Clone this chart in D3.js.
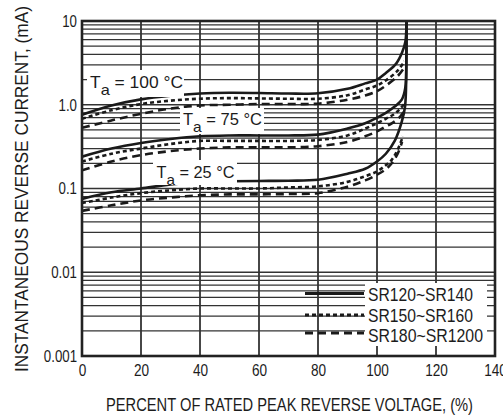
<!DOCTYPE html>
<html><head><meta charset="utf-8">
<script src="https://cdn.jsdelivr.net/npm/d3@7"></script>
<style>
body{margin:0;background:#fff}
svg{display:block}
text{font-family:"Liberation Sans",Arial,Helvetica,sans-serif;fill:#1c1c1c}
</style>
</head><body><svg id="c" width="503" height="418"></svg>
<script>
// ---------- data ----------
const xTicks = [0,20,40,60,80,100,120,140];
const yTicks = [0.001,0.01,0.1,1,10];
const yTickLabels = ["0.001","0.01","0.1","1.0","10"];
const seriesNames = ["SR120~SR140","SR150~SR160","SR180~SR1200"];
const tempLabels = ["100","75","25"];

// Ta = 100 °C  [percent, mA]
const t100_sr120 = [[0,0.76],[10,0.98],[20,1.16],[30,1.28],[40,1.36],[50,1.39],[60,1.38],[70,1.36],[80,1.37],[90,1.55],[96,1.8],[100,2.0],[103,2.4],[106.5,3.1],[108.5,4.2],[109.6,5.6],[109.95,8],[110,10]];
const t100_sr150 = [[0,0.68],[10,0.86],[20,1.02],[30,1.12],[40,1.18],[50,1.2],[60,1.19],[70,1.18],[80,1.18],[90,1.3],[96,1.52],[100,1.7],[103,1.95],[107,2.55],[109.3,3.3]];
const t100_sr180 = [[0,0.53],[10,0.65],[20,0.78],[30,0.9],[40,0.98],[50,1.0],[60,1.02],[70,1.02],[80,1.03],[90,1.15],[96,1.29],[100,1.45],[103,1.69],[107,2.2],[109,2.7]];
// Ta = 75 °C
const t75_sr120 = [[0,0.24],[10,0.3],[20,0.35],[30,0.39],[40,0.42],[50,0.43],[60,0.43],[70,0.43],[80,0.44],[90,0.52],[96,0.6],[100,0.7],[103,0.8],[106,0.95],[108.4,1.15],[109.6,1.6],[109.95,4],[110,10]];
const t75_sr150 = [[0,0.21],[10,0.26],[20,0.3],[30,0.34],[40,0.37],[50,0.37],[60,0.37],[70,0.37],[80,0.38],[90,0.43],[96,0.52],[100,0.6],[103,0.68],[105.5,0.76],[107.5,0.87],[109.2,1.02]];
const t75_sr180 = [[0,0.165],[10,0.21],[20,0.25],[30,0.28],[40,0.3],[50,0.31],[60,0.31],[70,0.31],[80,0.32],[90,0.36],[96,0.42],[100,0.48],[103,0.55],[105,0.6],[107.5,0.7],[109,0.82]];
// Ta = 25 °C
const t25_sr120 = [[0,0.075],[10,0.09],[20,0.1],[30,0.112],[40,0.12],[50,0.122],[60,0.123],[70,0.124],[80,0.127],[90,0.15],[96,0.172],[100,0.21],[103,0.26],[106,0.37],[108.4,0.63],[109.5,0.95],[109.95,3],[110,10]];
const t25_sr150 = [[0,0.067],[10,0.078],[20,0.088],[30,0.095],[40,0.1],[50,0.1],[60,0.1],[70,0.103],[80,0.106],[90,0.12],[96,0.14],[100,0.16],[103,0.19],[105,0.22],[107,0.29],[108.8,0.42]];
const t25_sr180 = [[0,0.054],[10,0.063],[20,0.072],[30,0.078],[40,0.083],[50,0.085],[60,0.085],[70,0.086],[80,0.088],[90,0.105],[96,0.125],[100,0.146],[103,0.17],[105,0.2],[107,0.26],[108.5,0.36]];

// ---------- chart ----------
const svg = d3.select("#c");
const x = d3.scaleLinear().domain([0,140]).range([82,495]);
const y = d3.scaleLog().domain([0.001,10]).range([356,21]);

function condense(sel, f){
  sel.each(function(){
    const w = this.getComputedTextLength();
    d3.select(this).attr("textLength", w*f).attr("lengthAdjust","spacingAndGlyphs");
  });
}

// grid
const gridVals = [];
for (let n=-3;n<=0;n++) for (let k=1;k<=9;k++) gridVals.push(k*Math.pow(10,n));
gridVals.push(10);
const grid = svg.append("g");
grid.selectAll("line.h").data(gridVals).join("line")
  .attr("x1",x(0)).attr("x2",x(140))
  .attr("y1",d=>y(d)).attr("y2",d=>y(d))
  .attr("stroke","#333").attr("stroke-width",d=>Math.abs(Math.log10(d)%1)<1e-9?1.6:1.2);
grid.selectAll("line.v").data(xTicks.slice(1,-1)).join("line")
  .attr("x1",d=>x(d)).attr("x2",d=>x(d))
  .attr("y1",y(10)).attr("y2",y(0.001))
  .attr("stroke","#333").attr("stroke-width",1.8);

// Ta labels with white boxes
const labelPos = [
  {t:tempLabels[0], x:90, y:87.5, w:93, box:[87,70,97,27]},
  {t:tempLabels[1], x:183, y:124.5, w:79, box:[180,108,84,26]},
  {t:tempLabels[2], x:156.5, y:177.5, w:78, box:[153,160,84,25]}
];

// curves
const plot = svg.append("g");
svg.append("clipPath").attr("id","clip").append("rect")
  .attr("x",x(0)).attr("y",y(10)).attr("width",x(140)-x(0)).attr("height",y(0.001)-y(10));
plot.attr("clip-path","url(#clip)");
const line = d3.line().x(d=>x(d[0])).y(d=>y(d[1])).curve(d3.curveCatmullRom.alpha(0.5));
const styles = [null,"4,3","8,5"];
const families = [
  [t100_sr120,t100_sr150,t100_sr180],
  [t75_sr120,t75_sr150,t75_sr180],
  [t25_sr120,t25_sr150,t25_sr180]
];

const lab = svg.append("g");
labelPos.forEach(p=>{
  lab.append("rect").attr("x",p.box[0]).attr("y",p.box[1]).attr("width",p.box[2]).attr("height",p.box[3]).attr("fill","#fff");
});

families.forEach(fam=>{
  fam.forEach((s,i)=>{
    plot.append("path").datum(s).attr("d",line)
      .attr("fill","none").attr("stroke","#1a1a1a").attr("stroke-width",2.6)
      .attr("stroke-dasharray",styles[i]);
  });
});

labelPos.forEach(p=>{
  const t = lab.append("text").attr("x",p.x).attr("y",p.y).attr("font-size",16);
  t.append("tspan").text("T");
  t.append("tspan").attr("font-size",15).attr("dy",7).text("a");
  t.append("tspan").attr("dy",-7).text(" = " + p.t + " °C");
  t.attr("textLength",p.w).attr("lengthAdjust","spacingAndGlyphs");
});

// border
svg.append("rect").attr("x",x(0)).attr("y",y(10))
  .attr("width",x(140)-x(0)).attr("height",y(0.001)-y(10))
  .attr("fill","none").attr("stroke","#222").attr("stroke-width",2.6);

// axes
const xa = svg.append("g").attr("transform",`translate(0,${y(0.001)})`)
  .call(d3.axisBottom(x).tickValues(xTicks).tickSize(0).tickPadding(8).tickFormat(d3.format("d")));
xa.select(".domain").remove();
xa.selectAll("text").attr("font-size",17).attr("font-family",null).style("fill","#1c1c1c");
condense(xa.selectAll("text"),0.8);

const ya = svg.append("g").attr("transform",`translate(${x(0)},0)`)
  .call(d3.axisLeft(y).tickValues(yTicks).tickSize(0).tickPadding(5).tickFormat((d,i)=>yTickLabels[i]));
ya.select(".domain").remove();
ya.selectAll("text").attr("font-size",17).attr("font-family",null).style("fill","#1c1c1c");
condense(ya.selectAll("text"),0.78);

// axis titles
svg.append("text").attr("x",289.5).attr("y",411).attr("text-anchor","middle")
  .attr("font-size",17.5).attr("textLength",367).attr("lengthAdjust","spacingAndGlyphs")
  .text("PERCENT OF RATED PEAK REVERSE VOLTAGE, (%)");
svg.append("text").attr("transform","translate(28,189) rotate(-90)").attr("text-anchor","middle")
  .attr("font-size",18).attr("textLength",366).attr("lengthAdjust","spacingAndGlyphs")
  .text("INSTANTANEOUS  REVERSE  CURRENT, (mA)");

// legend
const lg = svg.append("g");
lg.append("rect").attr("x",365).attr("y",283).attr("width",122).attr("height",63).attr("fill","#fff");
const legY = [293.5,315,333];
const legTextY = [300.5,321.5,341.5];
const legW = [105,105,115];
seriesNames.forEach((n,i)=>{
  lg.append("line").attr("x1",305).attr("x2",364).attr("y1",legY[i]).attr("y2",legY[i])
    .attr("stroke","#1a1a1a").attr("stroke-width",3).attr("stroke-dasharray",styles[i]);
  lg.append("text").attr("x",368).attr("y",legTextY[i]).attr("font-size",18)
    .attr("textLength",legW[i]).attr("lengthAdjust","spacingAndGlyphs").text(n);
});
</script>
</body></html>
